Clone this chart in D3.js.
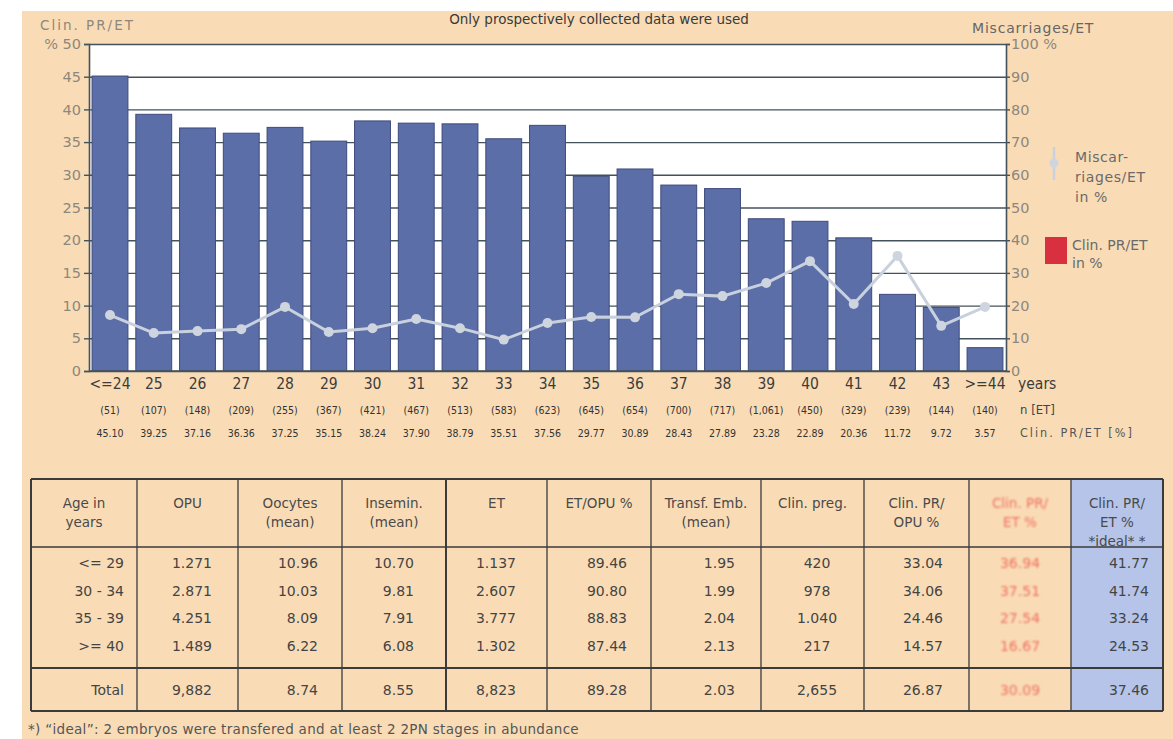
<!DOCTYPE html>
<html>
<head>
<meta charset="utf-8">
<script src="https://cdn.jsdelivr.net/npm/d3@7"></script>
<style>
  body { margin: 0; background: #fff; }
  text { font-family: "DejaVu Sans", sans-serif; }
  .cond { font-family: "DejaVu Sans Condensed", "DejaVu Sans", sans-serif; }
</style>
</head>
<body>
<div id="chart"></div>
<script>
// Age groups (x axis)
const ages = ["<=24", "25", "26", "27", "28", "29", "30", "31", "32", "33", "34",
  "35", "36", "37", "38", "39", "40", "41", "42", "43", ">=44"];
// Clin. PR/ET in % (bars, left axis)
const clinPrEt = [45.10, 39.25, 37.16, 36.36, 37.25, 35.15, 38.24, 37.90, 37.79, 35.51, 37.56,
  29.77, 30.89, 28.43, 27.89, 23.28, 22.89, 20.36, 11.72, 9.72, 3.57];
// Clin. PR/ET labels printed under the axis
const clinPrEtLabels = ["45.10", "39.25", "37.16", "36.36", "37.25", "35.15", "38.24", "37.90", "38.79", "35.51", "37.56",
  "29.77", "30.89", "28.43", "27.89", "23.28", "22.89", "20.36", "11.72", "9.72", "3.57"];
// Miscarriages/ET in % (line, right axis)
const miscarriages = [17.1, 11.6, 12.2, 12.8, 19.6, 11.9, 13.1, 15.9, 13.1, 9.6, 14.7,
  16.5, 16.4, 23.5, 22.9, 26.9, 33.6, 20.5, 35.2, 13.8, 19.6];
// n [ET] per age
const nEt = ["(51)", "(107)", "(148)", "(209)", "(255)", "(367)", "(421)", "(467)", "(513)", "(583)", "(623)",
  "(645)", "(654)", "(700)", "(717)", "(1,061)", "(450)", "(329)", "(239)", "(144)", "(140)"];
// axis ticks
const leftTicks = [0, 5, 10, 15, 20, 25, 30, 35, 40, 45, 50];
const rightTicks = [0, 10, 20, 30, 40, 50, 60, 70, 80, 90, 100];

// table below the chart
const tableHeaders = [["Age in", "years"], ["OPU"], ["Oocytes", "(mean)"], ["Insemin.", "(mean)"], ["ET"],
  ["ET/OPU %"], ["Transf. Emb.", "(mean)"], ["Clin. preg."], ["Clin. PR/", "OPU %"], ["Clin. PR/", "ET %"],
  ["Clin. PR/", "ET %", "*ideal* *"]];
const ageGroups = ["<= 29", "30 - 34", "35 - 39", ">= 40", "Total"];
const opu = ["1.271", "2.871", "4.251", "1.489", "9,882"];
const oocytes = ["10.96", "10.03", "8.09", "6.22", "8.74"];
const insemin = ["10.70", "9.81", "7.91", "6.08", "8.55"];
const et = ["1.137", "2.607", "3.777", "1.302", "8,823"];
const etOpu = ["89.46", "90.80", "88.83", "87.44", "89.28"];
const transfEmb = ["1.95", "1.99", "2.04", "2.13", "2.03"];
const clinPreg = ["420", "978", "1.040", "217", "2,655"];
const clinPrOpu = ["33.04", "34.06", "24.46", "14.57", "26.87"];
const clinPrEtGroup = ["36.94", "37.51", "27.54", "16.67", "30.09"];
const clinPrEtIdeal = ["41.77", "41.74", "33.24", "24.53", "37.46"];

function drawGraphic() {
  const W = 1173, H = 739;
  const peach = "#f9dcb6", barBlue = "#5b6ea7", gridCol = "#44525b";

  const svg = d3.select("#chart").append("svg")
    .attr("width", W).attr("height", H);

  svg.append("defs").append("filter").attr("id", "blur")
    .append("feGaussianBlur").attr("stdDeviation", 0.9);

  // background
  svg.append("rect").attr("x", 22).attr("y", 11).attr("width", W - 22).attr("height", H - 11)
    .attr("fill", peach);

  // plot area
  const plot = { left: 89, right: 1006, top: 44, bottom: 371 };

  const x = d3.scaleBand().domain(ages)
    .range([plot.left, plot.right]).paddingInner(0.18).paddingOuter(0.07);
  const yL = d3.scaleLinear().domain([0, 50]).range([plot.bottom, plot.top]);
  const yR = d3.scaleLinear().domain([0, 100]).range([plot.bottom, plot.top]);

  svg.append("rect")
    .attr("x", plot.left).attr("y", plot.top)
    .attr("width", plot.right - plot.left).attr("height", plot.bottom - plot.top)
    .attr("fill", "#fff");

  // grid lines
  svg.append("g")
    .attr("transform", "translate(" + plot.left + ",0)")
    .call(d3.axisLeft(yL).tickValues(leftTicks).tickSize(-(plot.right - plot.left)).tickFormat(""))
    .call(g => g.select(".domain").remove())
    .call(g => g.selectAll("line").attr("stroke", gridCol).attr("stroke-width", 1.4));

  // bars
  svg.append("g").selectAll("rect")
    .data(clinPrEt)
    .join("rect")
    .attr("x", (d, i) => x(ages[i]))
    .attr("y", d => yL(d))
    .attr("width", x.bandwidth())
    .attr("height", d => yL(0) - yL(d))
    .attr("fill", barBlue)
    .attr("stroke", "#3e4b7c")
    .attr("stroke-width", 1);

  // left axis
  svg.append("g")
    .attr("transform", "translate(" + plot.left + ",0)")
    .call(d3.axisLeft(yL).tickValues(leftTicks).tickSize(5).tickPadding(3)
      .tickFormat(d => d === 50 ? "% 50" : d))
    .call(g => g.select(".domain").attr("stroke", gridCol).attr("stroke-width", 1.6))
    .call(g => g.selectAll("line").attr("stroke", gridCol).attr("stroke-width", 1.4))
    .call(g => g.selectAll("text").attr("fill", "#8e877c").style("font-size", "14.5px")
      .style("font-family", "DejaVu Sans"));

  // right axis
  svg.append("g")
    .attr("transform", "translate(" + plot.right + ",0)")
    .call(d3.axisRight(yR).tickValues(rightTicks).tickSize(4).tickPadding(1)
      .tickFormat(d => d === 100 ? "100 %" : d))
    .call(g => g.select(".domain").attr("stroke", gridCol).attr("stroke-width", 1.6))
    .call(g => g.selectAll("line").attr("stroke", gridCol).attr("stroke-width", 1.4))
    .call(g => g.selectAll("text").attr("fill", "#8e877c").style("font-size", "14.5px")
      .style("font-family", "DejaVu Sans"));

  // bottom line
  svg.append("line")
    .attr("x1", plot.left).attr("x2", plot.right)
    .attr("y1", plot.bottom).attr("y2", plot.bottom)
    .attr("stroke", gridCol).attr("stroke-width", 1.6);

  // miscarriage line
  const cx = i => x(ages[i]) + x.bandwidth() / 2;
  svg.append("path")
    .datum(miscarriages)
    .attr("fill", "none")
    .attr("stroke", "#c8d1dd")
    .attr("stroke-width", 3)
    .attr("d", d3.line().x((d, i) => cx(i)).y(d => yR(d)));
  svg.append("g").selectAll("circle")
    .data(miscarriages)
    .join("circle")
    .attr("cx", (d, i) => cx(i))
    .attr("cy", d => yR(d))
    .attr("r", 5)
    .attr("fill", "#cfd5df");

  // category labels
  svg.append("g").selectAll("text")
    .data(ages)
    .join("text")
    .attr("class", "cond")
    .attr("x", d => x(d) + x.bandwidth() / 2)
    .attr("y", 389)
    .attr("text-anchor", "middle")
    .attr("fill", "#3c3c3c")
    .style("font-size", "15.5px")
    .text(d => d);
  svg.append("text").attr("class", "cond").attr("x", 1018).attr("y", 389)
    .attr("fill", "#3c3c3c").style("font-size", "15.5px").text("years");

  // n [ET] row
  svg.append("g").selectAll("text")
    .data(nEt)
    .join("text")
    .attr("class", "cond")
    .attr("x", (d, i) => cx(i))
    .attr("y", 414)
    .attr("text-anchor", "middle")
    .attr("fill", "#333")
    .style("font-size", "10.5px")
    .text(d => d);
  svg.append("text").attr("class", "cond").attr("x", 1020).attr("y", 414)
    .attr("fill", "#444").style("font-size", "13px").text("n [ET]");

  // Clin. PR/ET row
  svg.append("g").selectAll("text")
    .data(clinPrEtLabels)
    .join("text")
    .attr("class", "cond")
    .attr("x", (d, i) => cx(i))
    .attr("y", 437)
    .attr("text-anchor", "middle")
    .attr("fill", "#333")
    .style("font-size", "10.5px")
    .text(d => d);
  svg.append("text").attr("class", "cond").attr("x", 1020).attr("y", 437)
    .attr("fill", "#555").style("font-size", "12.5px").style("letter-spacing", "2px")
    .text("Clin. PR/ET [%]");

  // titles
  svg.append("text").attr("x", 40).attr("y", 30)
    .attr("fill", "#8e877c").style("font-size", "13.5px").style("letter-spacing", "2px")
    .text("Clin. PR/ET");
  svg.append("text").attr("x", 599).attr("y", 24).attr("text-anchor", "middle")
    .attr("fill", "#3a3a3a").style("font-size", "13.5px")
    .text("Only prospectively collected data were used");
  svg.append("text").attr("x", 972).attr("y", 33)
    .attr("fill", "#666").style("font-size", "14px").style("letter-spacing", "0.8px")
    .text("Miscarriages/ET");

  // legend
  const legend = svg.append("g");
  legend.append("line").attr("x1", 1054).attr("x2", 1054).attr("y1", 147).attr("y2", 180)
    .attr("stroke", "#c8d1dd").attr("stroke-width", 2.5);
  legend.append("circle").attr("cx", 1054).attr("cy", 163).attr("r", 4.5).attr("fill", "#cfd5df");
  ["Miscar-", "riages/ET", "in %"].forEach((t, i) => {
    legend.append("text").attr("x", 1075).attr("y", 162 + i * 20)
      .attr("fill", "#6a6a6a").style("font-size", "14px").style("letter-spacing", "0.6px").text(t);
  });
  legend.append("rect").attr("x", 1045).attr("y", 237).attr("width", 22).attr("height", 27)
    .attr("fill", "#d9303f");
  ["Clin. PR/ET", "in %"].forEach((t, i) => {
    legend.append("text").attr("x", 1072).attr("y", 250 + i * 18)
      .attr("fill", "#6a6a6a").style("font-size", "14px").text(t);
  });

  // table
  const edges = [31, 137, 238, 342, 446, 547, 651, 761, 864, 969, 1071, 1163];
  const cols = [ageGroups, opu, oocytes, insemin, et, etOpu, transfEmb, clinPreg, clinPrOpu, clinPrEtGroup, clinPrEtIdeal];
  // text anchor position of each column
  const textPos = [
    { x: 124, a: "end" }, { x: 212, a: "end" }, { x: 318, a: "end" }, { x: 414, a: "end" },
    { x: 516, a: "end" }, { x: 627, a: "end" }, { x: 735, a: "end" }, { x: 817, a: "middle" },
    { x: 943, a: "end" }, { x: 1020, a: "middle" }, { x: 1149, a: "end" }];
  const tTop = 479, tHead = 547, tDiv = 668, tBot = 711;
  const rowY = [568, 596, 623, 651, 695];
  const tbl = svg.append("g");

  tbl.append("rect").attr("x", edges[10]).attr("y", tTop)
    .attr("width", edges[11] - edges[10]).attr("height", tBot - tTop)
    .attr("fill", "#b5c4e8");

  // header texts
  tableHeaders.forEach((lines, c) => {
    const mid = (edges[c] + edges[c + 1]) / 2;
    lines.forEach((t, k) => {
      tbl.append("text")
        .attr("x", mid).attr("y", 508 + k * 19)
        .attr("text-anchor", "middle")
        .attr("fill", c === 9 ? "#ef6f5f" : "#4a4a4a")
        .attr("filter", c === 9 ? "url(#blur)" : null)
        .style("font-size", "13.5px")
        .text(t);
    });
  });

  // body texts
  cols.forEach((vals, c) => {
    tbl.append("g").selectAll("text")
      .data(vals)
      .join("text")
      .attr("x", textPos[c].x)
      .attr("y", (d, r) => rowY[r])
      .attr("text-anchor", textPos[c].a)
      .attr("fill", c === 9 ? "#ef6f5f" : "#444")
      .attr("filter", c === 9 ? "url(#blur)" : null)
      .style("font-size", "14px")
      .text(d => d);
  });

  // table lines
  const lineCol = "#3b3b3b";
  edges.forEach((ex, i) => {
    tbl.append("line").attr("x1", ex).attr("x2", ex).attr("y1", tTop).attr("y2", tBot)
      .attr("stroke", lineCol).attr("stroke-width", (i === 4 || i === 0 || i === 11) ? 2 : 1.3);
  });
  [tTop, tHead, tDiv, tBot].forEach((yy, i) => {
    tbl.append("line").attr("x1", edges[0]).attr("x2", edges[11]).attr("y1", yy).attr("y2", yy)
      .attr("stroke", lineCol).attr("stroke-width", i === 1 ? 1.3 : 1.8);
  });

  // footnote
  svg.append("text").attr("x", 28).attr("y", 734)
    .attr("fill", "#555").style("font-size", "13.5px").style("letter-spacing", "0.3px")
    .text("*) \u201cideal\u201d: 2 embryos were transfered and at least 2 2PN stages in abundance");
}

window.addEventListener("load", drawGraphic);
</script>
</body>
</html>
